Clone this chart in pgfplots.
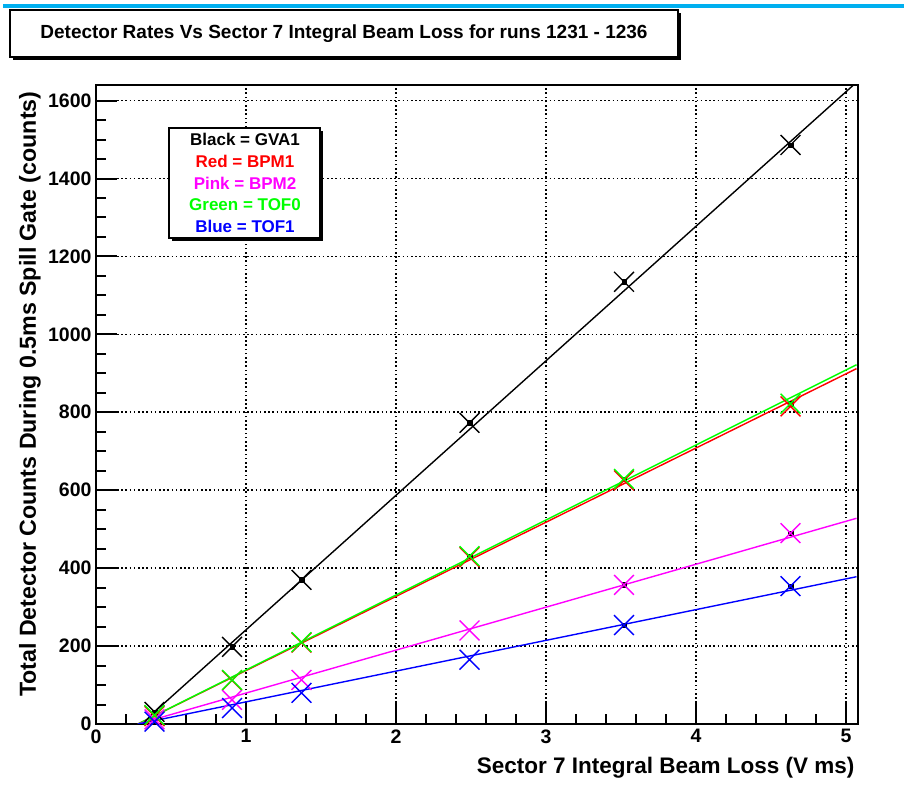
\documentclass[border=0pt]{standalone}
\usepackage{pgfplots}
\pgfplotsset{compat=1.18}
\usepackage{fontspec}
\setmainfont{Liberation Sans}
\definecolor{rgreen}{RGB}{0,255,0}
\definecolor{rpink}{RGB}{255,0,255}
\definecolor{rblue}{RGB}{0,0,255}
\definecolor{rred}{RGB}{255,0,0}
\definecolor{slidecyan}{RGB}{0,176,240}
\begin{document}
\begin{tikzpicture}
\begin{scope}[x=1pt,y=1pt]
\path[use as bounding box] (0,0) rectangle (904,789);
\fill[slidecyan] (3,781) rectangle (904,785);
\end{scope}
\begin{axis}[
  at={(96pt,65pt)}, anchor=south west,
  scale only axis, width=762pt, height=639pt,
  xmin=0, xmax=5.08, ymin=0, ymax=1640,
  xtick={0,1,2,3,4,5}, ytick={0,200,...,1600},
  minor x tick num=4, minor y tick num=3,
  tick pos=left, tick align=inside,
  major tick length=21pt, minor tick length=10pt,
  every tick/.append style={black, line width=2pt},
  axis line style={line width=2pt},
  grid=major,
  major grid style={black, line width=1.6pt, dash pattern=on 1.6pt off 2.6pt},
  /pgf/number format/assume math mode=true,
  /pgf/number format/1000 sep={},
  ticklabel style={font=\bfseries\fontsize{19.5}{19.5}\selectfont},
  yticklabel style={xshift=-1pt},
  xticklabel style={yshift=-2pt},
  xlabel={Sector 7 Integral Beam Loss (V ms)},
  ylabel={Total Detector Counts During 0.5ms Spill Gate (counts)},
  xlabel style={font=\bfseries\fontsize{22.5}{24}\selectfont, at={(axis description cs:1,-0.0689)}, anchor=east},
  ylabel style={font=\bfseries\fontsize{23.2}{24}\selectfont, at={(axis description cs:-0.0866,0.516)}, anchor=center},
  mark options={solid},
]
% data-point centres
\addplot[only marks, mark=square*, mark size=2.2pt, black] coordinates {
 (0.39,31) (0.907,198) (1.37,370) (2.49,773) (3.52,1135) (4.63,1486)
 (2.49,431) (3.52,629) (4.63,822) (3.52,357) (4.63,490) (3.52,254) (4.63,354)};
% Black = GVA1
\addplot[only marks, mark=x, mark size=14pt, black, line width=1.4pt] coordinates {
 (0.39,31) (0.907,198) (1.37,370) (2.49,773) (3.52,1135) (4.63,1486)};
% Red = BPM1
\addplot[only marks, mark=x, mark size=14pt, rred, line width=1.4pt] coordinates {
 (0.39,20) (0.907,112) (1.37,209) (2.49,428) (3.52,625) (4.63,815)};
% Pink = BPM2
\addplot[only marks, mark=x, mark size=14pt, rpink, line width=1.4pt] coordinates {
 (0.39,12) (0.907,62) (1.37,113) (2.49,240) (3.52,357) (4.63,490)};
% Green = TOF0
\addplot[only marks, mark=x, mark size=14pt, rgreen, line width=1.4pt] coordinates {
 (0.39,23) (0.907,113) (1.37,210) (2.49,431) (3.52,629) (4.63,822)};
% Blue = TOF1
\addplot[only marks, mark=x, mark size=14pt, rblue, line width=1.4pt] coordinates {
 (0.39,6) (0.907,41) (1.37,80) (2.49,165) (3.52,254) (4.63,354)};
% fitted lines
\addplot[black, line width=1.4pt, no marks] coordinates {(0.39,31) (5.05,1640)};
\addplot[rred, line width=1.4pt, no marks] coordinates {(0.28,0) (5.07,912)};
\addplot[rgreen, line width=1.4pt, no marks] coordinates {(0.28,0) (5.07,922)};
\addplot[rpink, line width=1.4pt, no marks] coordinates {(0.28,0) (5.07,528)};
\addplot[rblue, line width=1.4pt, no marks] coordinates {(0.28,0) (5.07,378)};
\end{axis}
\begin{scope}[x=1pt,y=1pt]
% title box
\fill[black] (13,729) rectangle (681,776);
\filldraw[fill=white,draw=black,line width=1.5pt] (10,732) rectangle (678,779);
\node[font=\bfseries\fontsize{19}{22}\selectfont] at (344,755.5) {Detector Rates Vs Sector 7 Integral Beam Loss for runs 1231 - 1236};
% legend box
\fill[black] (172,548) rectangle (323,658);
\filldraw[fill=white,draw=black,line width=1.5pt] (169,551) rectangle (320,661);
\node[font=\bfseries\fontsize{17}{21.7}\selectfont, align=center] at (245,606) {Black = GVA1\\\textcolor{rred}{Red = BPM1}\\\textcolor{rpink}{Pink = BPM2}\\\textcolor{rgreen}{Green = TOF0}\\\textcolor{rblue}{Blue = TOF1}};
\end{scope}
\end{tikzpicture}
\end{document}
